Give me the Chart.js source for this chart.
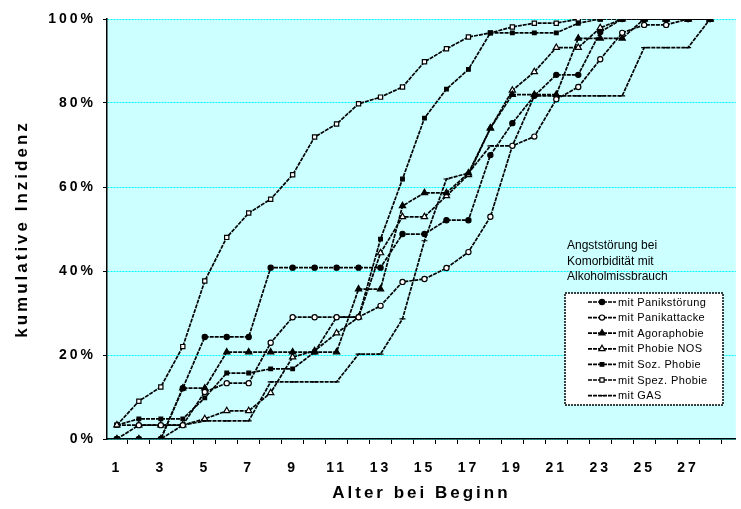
<!DOCTYPE html>
<html>
<head>
<meta charset="utf-8">
<script src="https://cdn.jsdelivr.net/npm/chart.js@4.4.1/dist/chart.umd.min.js"></script>
<style>
  html, body { margin: 0; padding: 0; background: #fff; overflow: hidden; }
</style>
</head>
<body>
<canvas id="chart" width="741" height="509"></canvas>
<script>
// Alter bei Beginn (Jahre)
const ages = [1, 2, 3, 4, 5, 6, 7, 8, 9, 10, 11, 12, 13, 14, 15, 16, 17, 18, 19, 20, 21, 22, 23, 24, 25, 26, 27, 28];
const xTicks = [1, 2, 3, 4, 5, 6, 7, 8, 9, 10, 11, 12, 13, 14, 15, 16, 17, 18, 19, 20, 21, 22, 23, 24, 25, 26, 27, 28, 29];
const yTicks = [0, 20, 40, 60, 80, 100];

// kumulative Inzidenz in %
const panikstoerung = [0, 0, 0, 12.1, 24.3, 24.3, 24.3, 40.8, 40.8, 40.8, 40.8, 40.8, 40.8, 48.8, 48.8, 52.1, 52.1, 67.6, 75.2, 81.7, 86.7, 86.7, 96.9, 100, 100, 100, 100, 100];
const panikattacke = [0, 3.3, 3.3, 3.3, 11.2, 13.3, 13.3, 22.9, 29, 29, 29, 29, 31.7, 37.4, 38.1, 40.7, 44.5, 52.9, 69.8, 72, 80.9, 83.8, 90.4, 96.7, 98.6, 98.6, 100, 100];
const agoraphobie = [0, 0, 0, 12.1, 12.1, 20.7, 20.7, 20.7, 20.7, 20.7, 20.7, 35.7, 35.7, 55.5, 58.6, 58.6, 63.3, 74, 82, 82, 82, 95.4, 95.4, 95.4, 100, 100, 100, 100];
const phobieNos = [3.3, 3.3, 3.3, 3.3, 4.8, 6.7, 6.7, 11, 19.5, 21, 25.2, 29, 44.3, 52.9, 52.9, 57.9, 62.9, 74, 83, 87.4, 93.2, 93.2, 97.9, 100, 100, 100, 100, 100];
const sozPhobie = [3.3, 4.8, 4.8, 4.8, 9.8, 15.7, 15.7, 16.7, 16.7, 20.7, 29, 29, 47.6, 61.9, 76.4, 83.3, 88, 96.7, 96.7, 96.7, 96.7, 99, 100, 100, 100, 100, 100, 100];
const spezPhobie = [3.3, 9, 12.4, 22, 37.6, 48, 53.8, 57.1, 62.9, 71.9, 75, 79.8, 81.4, 83.8, 89.8, 92.9, 95.7, 96.7, 98.1, 99, 99, 100, 100, 100, 100, 100, 100, 100];
const gas = [0, 0, 0, 3.3, 4.3, 4.3, 4.3, 13.6, 13.6, 13.6, 13.6, 20.2, 20.2, 28.6, 47.2, 61.9, 63.3, 69.8, 69.8, 81.7, 81.7, 81.7, 81.7, 81.7, 93.2, 93.2, 93.2, 100];

const seriesNames = ['mit Panikstörung', 'mit Panikattacke', 'mit Agoraphobie', 'mit Phobie NOS', 'mit Soz. Phobie', 'mit Spez. Phobie', 'mit GAS'];
const noteLines = ['Angststörung bei', 'Komorbidität mit', 'Alkoholmissbrauch'];

const FONT = "'Liberation Sans', Arial, sans-serif";

function series(label, values, style, fill, radius) {
  return {
    label: label,
    data: values.map((v, i) => ({ x: ages[i], y: v })),
    borderColor: '#000',
    borderWidth: 1.7,
    borderDash: [4, 1],
    pointStyle: style,
    pointRadius: radius,
    pointBorderWidth: 1.2,
    pointBorderColor: '#000',
    pointBackgroundColor: fill,
    tension: 0
  };
}

const data = {
  datasets: [
    series(seriesNames[0], panikstoerung, 'circle', '#000', 2.6),
    series(seriesNames[1], panikattacke, 'circle', '#fff', 2.6),
    series(seriesNames[2], agoraphobie, 'triangle', '#000', 3.6),
    series(seriesNames[3], phobieNos, 'triangle', '#fff', 3.6),
    series(seriesNames[4], sozPhobie, 'rect', '#000', 2.6),
    series(seriesNames[5], spezPhobie, 'rect', '#fff', 3),
    series(seriesNames[6], gas, 'line', '#000', 3)
  ]
};

// hellblaue Zeichenfläche
const plotBackground = {
  id: 'plotBackground',
  beforeDraw(chart) {
    const { ctx, chartArea: a } = chart;
    ctx.save();
    ctx.fillStyle = '#CCFFFF';
    ctx.fillRect(a.left, a.top, a.right - a.left, a.bottom - a.top);
    ctx.restore();
    ctx.letterSpacing = '3px';
  },
  afterDraw(chart) {
    chart.ctx.letterSpacing = '0px';
  }
};

// Legende im Kasten + Beschriftung darüber
const boxLegend = {
  id: 'boxLegend',
  afterDraw(chart) {
    const ctx = chart.ctx;
    ctx.save();
    ctx.letterSpacing = '0px';
    ctx.fillStyle = '#000';
    ctx.font = '12px ' + FONT;
    ctx.textAlign = 'left';
    ctx.textBaseline = 'middle';
    noteLines.forEach((t, i) => ctx.fillText(t, 567, 246 + i * 15.5));

    const bx = 565, by = 293, bw = 158, bh = 112;
    ctx.fillStyle = '#fff';
    ctx.fillRect(bx, by, bw, bh);
    ctx.strokeStyle = '#000';
    ctx.lineWidth = 1.5;
    ctx.setLineDash([2, 1]);
    ctx.strokeRect(bx, by, bw, bh);

    ctx.font = '11px ' + FONT;
    ctx.letterSpacing = '0.4px';
    chart.data.datasets.forEach((ds, i) => {
      const y = 302 + i * 15.6;
      ctx.strokeStyle = '#000';
      ctx.lineWidth = 1.7;
      ctx.setLineDash([4, 1]);
      ctx.beginPath();
      ctx.moveTo(588, y);
      ctx.lineTo(616, y);
      ctx.stroke();
      ctx.setLineDash([]);
      ctx.fillStyle = ds.pointBackgroundColor;
      ctx.lineWidth = 1.2;
      Chart.helpers.drawPoint(ctx, { pointStyle: ds.pointStyle, radius: ds.pointRadius, borderWidth: ds.pointStyle === 'line' ? 2 : 1.2, rotation: 0 }, 602, y);
      ctx.fillStyle = '#000';
      ctx.fillText(ds.label, 618, y + 0.5);
    });
    ctx.restore();
  }
};

const tickFont = { family: FONT, size: 14, weight: 'bold' };
const titleFont = { family: FONT, size: 17, weight: 'bold' };

const config = {
  type: 'line',
  data,
  options: {
    responsive: false,
    animation: false,
    devicePixelRatio: 1,
    layout: { padding: { top: 19, right: 0, bottom: 0, left: 0 } },
    plugins: { legend: { display: false }, tooltip: { enabled: false } },
    scales: {
      x: {
        type: 'linear',
        min: 0.55,
        max: 29.17,
        afterBuildTicks: s => { s.ticks = xTicks.map(v => ({ value: v })); },
        afterFit: s => { s.height = 70; s.paddingLeft = 0; s.paddingRight = 0; },
        ticks: {
          autoSkip: false,
          maxRotation: 0,
          padding: 16,
          color: '#000',
          font: tickFont,
          callback: v => (v % 2 === 1 && v <= 27) ? String(v) : ''
        },
        grid: { drawOnChartArea: false, offset: true, tickLength: 5, tickColor: '#000', tickWidth: 1, tickBorderDash: [] },
        border: { color: '#000', width: 1.5, dash: [2, 1] },
        title: { display: true, text: 'Alter bei Beginn', color: '#000', font: titleFont, padding: { top: 0, bottom: 5 } }
      },
      y: {
        min: 0,
        max: 100,
        afterBuildTicks: s => { s.ticks = yTicks.map(v => ({ value: v })); },
        afterFit: s => { s.width = 107; },
        ticks: { padding: 7, color: '#000', font: tickFont, callback: v => v + '%' },
        grid: { color: '#00FFFF', lineWidth: 1, tickLength: 4, tickColor: '#000', tickWidth: 1, tickBorderDash: [] },
        border: { color: '#000', width: 1.5, dash: [2, 1] },
        title: { display: true, text: 'kumulative Inzidenz', color: '#000', font: titleFont, padding: { top: 12, bottom: 0 } }
      }
    }
  },
  plugins: [plotBackground, boxLegend]
};

const myChart = new Chart(document.getElementById('chart'), config);
</script>
</body>
</html>
